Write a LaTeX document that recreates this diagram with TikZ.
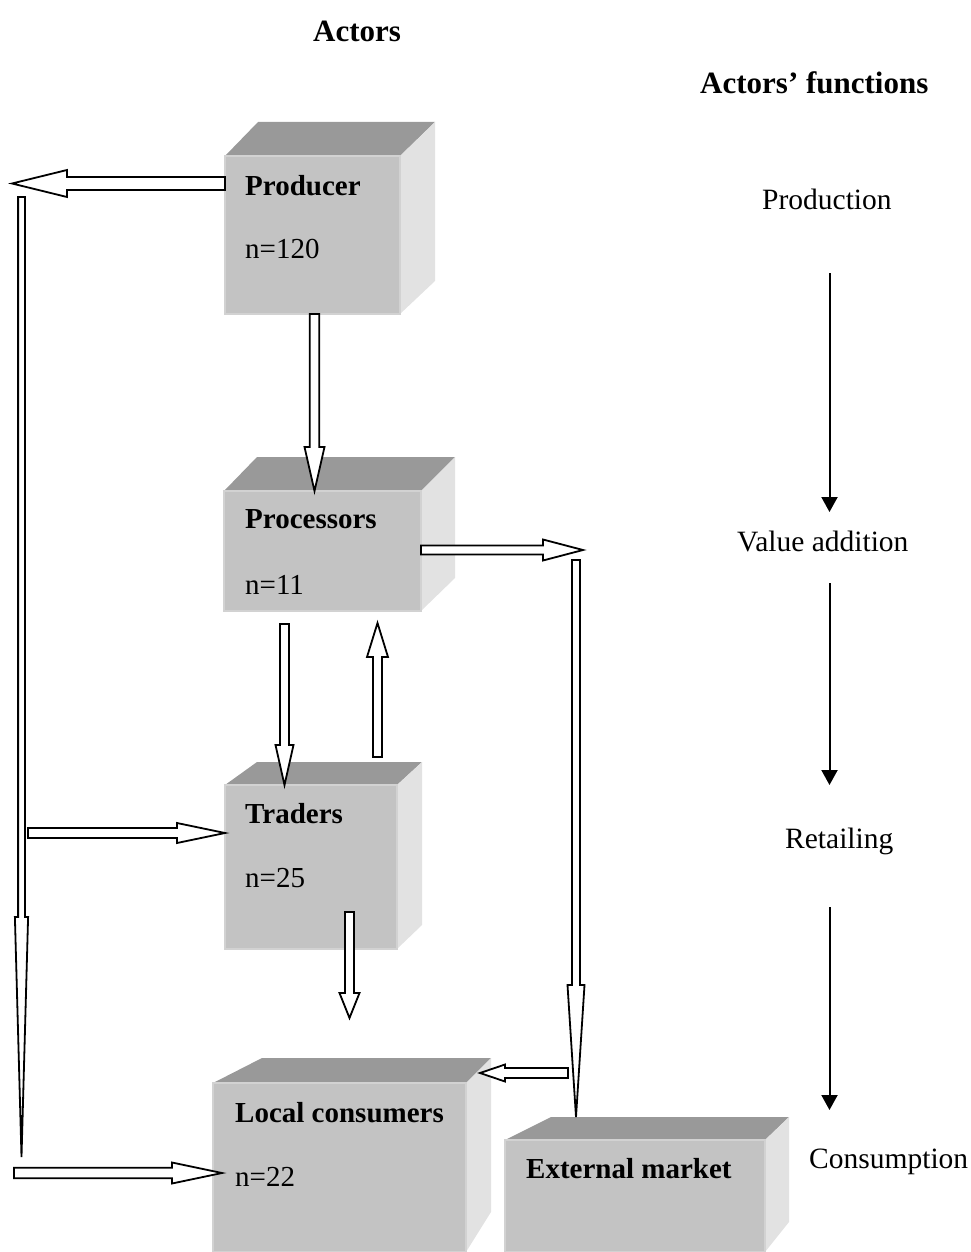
\documentclass[tikz,border=0pt]{standalone}
\usepackage{fontspec}
\setmainfont{Liberation Serif}
\usetikzlibrary{calc,arrows.meta}
\definecolor{boxtop}{RGB}{153,153,153}
\definecolor{boxfront}{RGB}{195,195,195}
\definecolor{boxside}{RGB}{226,226,226}
\definecolor{boxedge}{RGB}{210,210,210}
\tikzset{
  blockarrow/.style={draw=black, fill=white, line width=1.8pt, line join=miter},
  boxlabel/.style={anchor=base west, inner sep=0pt, font=\fontsize{29}{34}\selectfont\bfseries},
  boxcount/.style={anchor=base west, inner sep=0pt, font=\fontsize{29}{34}\selectfont},
  header/.style={anchor=base west, inner sep=0pt, font=\fontsize{31}{36}\selectfont\bfseries},
  funclabel/.style={anchor=base west, inner sep=0pt, font=\fontsize{29.5}{35}\selectfont},
  flowarrow/.style={line width=2pt, -{Triangle[width=16pt,length=15pt]}},
}
% front rectangle (#1,#2)-(#3,#4); back top corners x #5,#6 at y #7; right face lower back y #8
\newcommand{\cuboid}[8]{%
  \fill[boxtop] (#1,#2) -- (#5,#7) -- (#6,#7) -- (#3,#2) -- cycle;
  \fill[boxside] (#3,#2) -- (#6,#7) -- (#6,#8) -- (#3,#4) -- cycle;
  \filldraw[fill=boxfront, draw=boxedge, line width=1.5pt] (#1,#2) rectangle (#3,#4);
}
% block arrow from #1 to #2, shaft half width #3, head half width #4, head length #5
\newcommand{\blockarr}[5]{%
  \coordinate (ba-c) at ($(#2)!#5pt!(#1)$);
  \draw[blockarrow] ($(#1)!#3pt!90:(#2)$) -- ($(ba-c)!#3pt!-90:(#1)$) -- ($(ba-c)!#4pt!-90:(#1)$)
    -- (#2) -- ($(ba-c)!#4pt!90:(#1)$) -- ($(ba-c)!#3pt!90:(#1)$) -- ($(#1)!#3pt!-90:(#2)$) -- cycle;
}
\begin{document}
\begin{tikzpicture}[x=1pt,y=-1pt]
\useasboundingbox (0,0) rectangle (971,1252);

% boxes
\cuboid{225}{156}{400}{314}{258}{435}{122}{281}
\cuboid{224}{491}{421}{611}{257}{455}{457}{578}
\cuboid{225}{785}{397}{949}{257}{422}{762}{925}
\cuboid{213}{1083}{466}{1252}{262}{491}{1058}{1212}
\cuboid{505}{1140}{765}{1252}{551}{789}{1117}{1222}

% headers
\node[header] (hactors) at (313,42) {Actors};
\node[header] (hfunc) at (700,94) {Actors’ functions};

% box labels
\node[boxlabel] (prodname) at (245,196) {Producer};
\node[boxcount] (prodn) at (245,258) {n=120};
\node[boxlabel] (procname) at (245,528) {Processors};
\node[boxcount] (procn) at (245,594) {n=11};
\node[boxlabel] (tradname) at (245,823) {Traders};
\node[boxcount] (tradn) at (245,887) {n=25};
\node[boxlabel] (locname) at (235,1122) {Local consumers};
\node[boxcount] (locn) at (235,1186) {n=22};
\node[boxlabel] (extname) at (526,1178) {External market};

% function labels
\node[funclabel] (fprod) at (762,210) {Production};
\node[funclabel] (fval) at (737,551) {Value addition};
\node[funclabel] (fret) at (785,848) {Retailing};
\node[funclabel] (fcons) at (809,1168) {Consumption};

% function arrows
\coordinate (fa1s) at (829.5,273);
\coordinate (fa1e) at (829.5,512);
\coordinate (fa2s) at (829.5,583);
\coordinate (fa2e) at (829.5,785);
\coordinate (fa3s) at (829.5,907);
\coordinate (fa3e) at (829.5,1110);
\draw[flowarrow] (fa1s) -- (fa1e);
\draw[flowarrow] (fa2s) -- (fa2e);
\draw[flowarrow] (fa3s) -- (fa3e);

% block arrow end points
\coordinate (a1s) at (225,183.5);  \coordinate (a1e) at (12,183.5);
\coordinate (a2s) at (21.5,197);   \coordinate (a2e) at (21.5,1157);
\coordinate (a3s) at (28,833);     \coordinate (a3e) at (225,833);
\coordinate (a4s) at (14,1173);    \coordinate (a4e) at (222,1173);
\coordinate (a5s) at (314.5,314);  \coordinate (a5e) at (314.5,491);
\coordinate (a6s) at (284.5,624);  \coordinate (a6e) at (284.5,785);
\coordinate (a7s) at (377.5,757);  \coordinate (a7e) at (377.5,623);
\coordinate (a8s) at (421,550);    \coordinate (a8e) at (583,550);
\coordinate (a9s) at (576,560);    \coordinate (a9e) at (576,1117);
\coordinate (a10s) at (568,1073);  \coordinate (a10e) at (480,1073);
\coordinate (a11s) at (349.5,912); \coordinate (a11e) at (349.5,1018);

\blockarr{a1s}{a1e}{6.5}{13.5}{55}
\blockarr{a2s}{a2e}{3.4}{6.6}{240}
\blockarr{a3s}{a3e}{5}{10}{48}
\blockarr{a4s}{a4e}{5.2}{10.5}{50}
\blockarr{a5s}{a5e}{4.7}{10}{44}
\blockarr{a6s}{a6e}{4.5}{9}{40}
\blockarr{a7s}{a7e}{4.5}{10.5}{34}
\blockarr{a8s}{a8e}{4.5}{10.5}{40}
\blockarr{a9s}{a9e}{4}{8.5}{132}
\blockarr{a10s}{a10e}{5}{8.5}{25}
\blockarr{a11s}{a11e}{4.5}{10}{25}
\end{tikzpicture}
\end{document}
